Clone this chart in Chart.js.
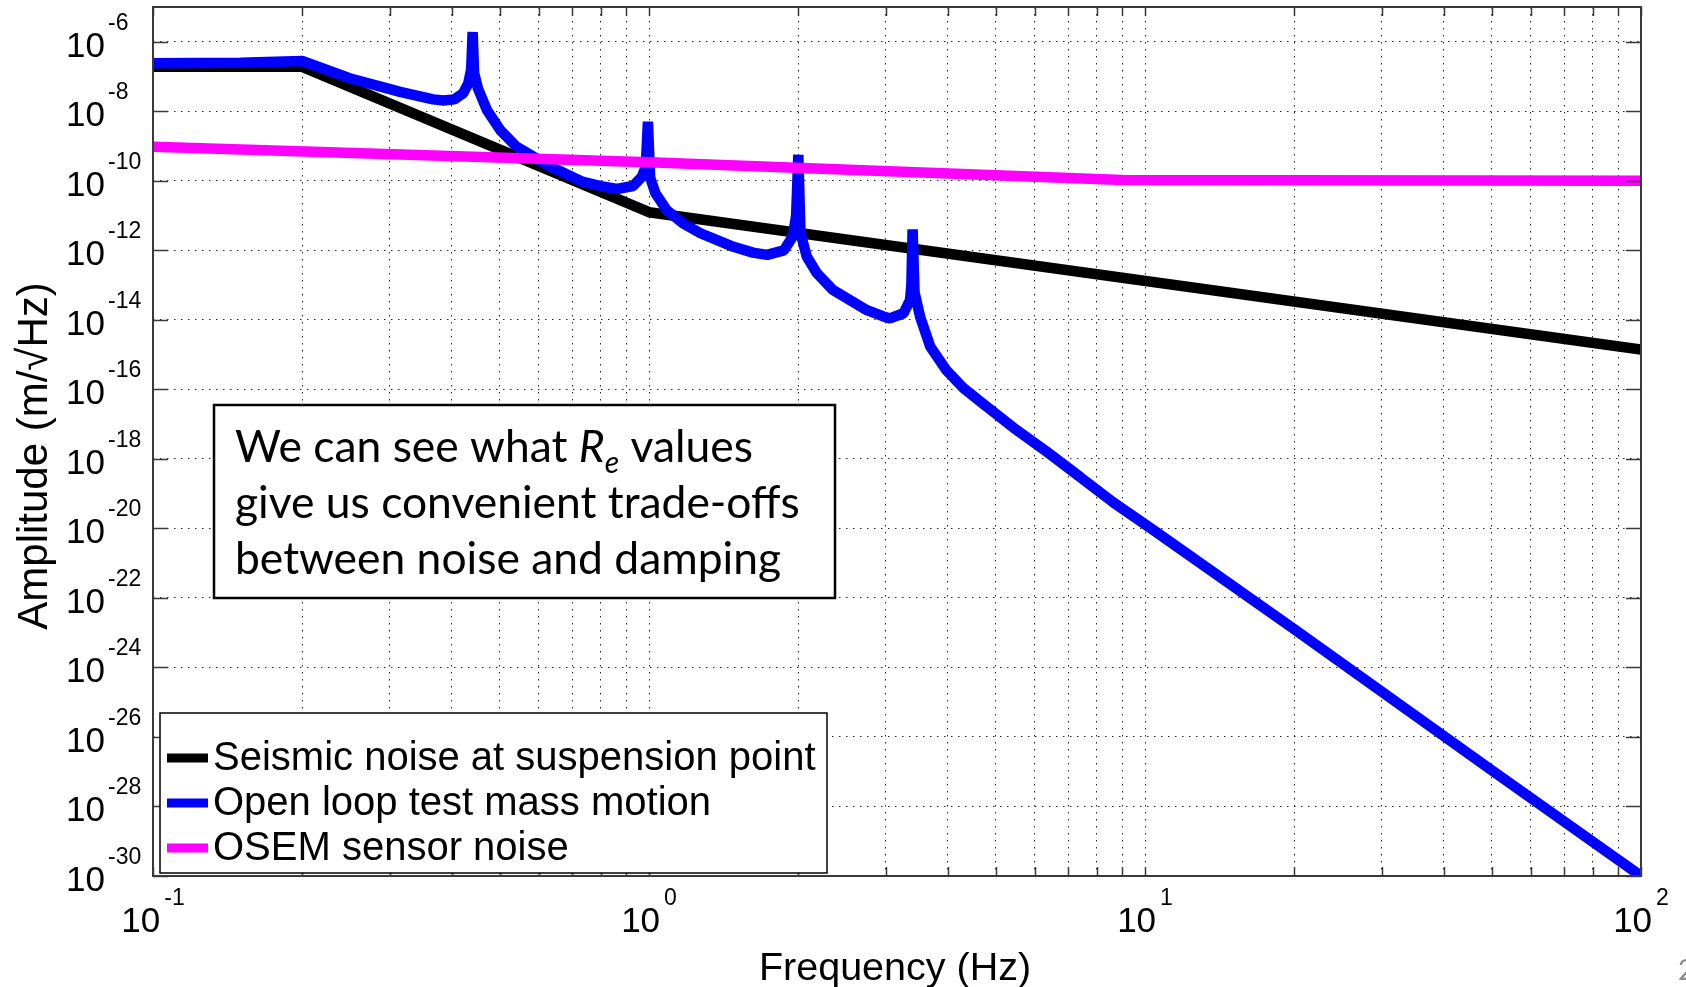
<!DOCTYPE html>
<html>
<head>
<meta charset="utf-8">
<script src="https://cdn.jsdelivr.net/npm/chart.js@4.4.1/dist/chart.umd.min.js"></script>
<style>
  html, body { margin: 0; padding: 0; background: #fff; overflow: hidden; }
  #wrap { width: 1686px; height: 987px; }
</style>
</head>
<body>
<div id="wrap"><canvas id="chart" width="1686" height="987"></canvas></div>
<script>
// --- data (frequency in Hz, amplitude in m/sqrt(Hz)) ---
const SEISMIC_F = [0.1, 0.2, 1, 100];
const SEISMIC_A = [1.9e-7, 1.9e-7, 1.25e-11, 1.4e-15];

const MASS_F = [0.1, 0.15, 0.2, 0.249, 0.315, 0.367, 0.385, 0.405, 0.422, 0.432, 0.438, 0.441, 0.444, 0.452,
  0.471, 0.501, 0.541, 0.631, 0.736, 0.80, 0.861, 0.929, 0.967, 0.985, 0.995, 1.005, 1.03, 1.085, 1.17,
  1.27, 1.48, 1.62, 1.73, 1.87, 1.95, 1.98, 2.0, 2.02, 2.08, 2.18, 2.35, 2.75, 2.95, 3.06, 3.26, 3.36, 3.38,
  3.40, 3.43, 3.52, 3.69, 3.98, 4.3, 4.65, 5.43, 6.34, 7.40, 8.63, 10.4, 20, 50, 100];
const MASS_A = [2.4e-7, 2.5e-7, 2.8e-7, 8.9e-8, 3.6e-8, 2.2e-8, 2.05e-8, 2.2e-8, 3.3e-8, 6.3e-8, 1.6e-7, 1.9e-6, 1.26e-7, 4.5e-8,
  1.1e-8, 2.9e-9, 9.5e-10, 2.6e-10, 9.3e-11, 7.0e-11, 5.8e-11, 7.1e-11, 1.3e-10, 2.5e-10, 5.0e-9, 1.26e-10, 4.4e-11, 1.45e-11, 6.0e-12,
  3.1e-12, 1.26e-12, 8.6e-13, 7.4e-13, 1.0e-12, 2.5e-12, 1.0e-11, 5.6e-10, 3.2e-12, 6.6e-13, 2.2e-13, 7.2e-14, 1.9e-14, 1.3e-14, 1.1e-14, 1.55e-14, 3.7e-14, 1.0e-13,
  4.0e-12, 6.3e-14, 1.23e-14, 1.7e-15, 3.5e-16, 1.1e-16, 4.5e-17, 7.9e-18, 1.6e-18, 3.0e-19, 5.6e-20, 8.9e-21, 1.26e-23, 1.1e-27, 1.0e-30];

const OSEM_F = [0.1, 1, 9, 100];
const OSEM_A = [9.5e-10, 3.4e-10, 1.05e-10, 1.0e-10];

const SERIES_LABELS = ['Seismic noise at suspension point', 'Open loop test mass motion', 'OSEM sensor noise'];
const SERIES_COLORS = ['#000000', '#0000ff', '#ff00ff'];

// --- axes ---
const X_MIN = 0.1, X_MAX = 100;
const Y_MIN = 1e-30, Y_MAX = 1e-5;
const X_GRID = [0.1, 0.2, 0.3, 0.4, 0.5, 0.6, 0.7, 0.8, 0.9, 1, 2, 3, 4, 5, 6, 7, 8, 9, 10,
  20, 30, 40, 50, 60, 70, 80, 90, 100];
const X_LABEL_EXP = [-1, 0, 1, 2];
const Y_LABEL_EXP = [-30, -28, -26, -24, -22, -20, -18, -16, -14, -12, -10, -8, -6];

const X_TITLE = 'Frequency (Hz)';
const Y_TITLE = 'Amplitude (m/\u221AHz)';
const NOTE_LINE1 = ['We can see what ', 'R', 'e', ' values'];
const NOTE_LINES = ['give us convenient trade-offs', 'between noise and damping'];
const PAGE_NO = '2';

const AX_FONT = "'Liberation Sans', Arial, sans-serif";
const NOTE_FONT = "Lato, 'Open Sans', sans-serif";

function toPoints(fs, as) {
  return fs.map((f, i) => ({ x: f, y: as[i] }));
}

const decorPlugin = {
  id: 'decor',
  afterDatasetsDraw(chart) {
    const { ctx, chartArea: a, scales: { x, y } } = chart;
    ctx.save();

    // frame
    ctx.strokeStyle = '#3a3a3a';
    ctx.lineWidth = 2;
    ctx.strokeRect(a.left, a.top, a.right - a.left, a.bottom - a.top);

    // inward tick marks
    ctx.beginPath();
    X_GRID.forEach(v => {
      const px = Math.round(x.getPixelForValue(v)) + 0.5;
      ctx.moveTo(px, a.bottom); ctx.lineTo(px, a.bottom - 9);
      ctx.moveTo(px, a.top); ctx.lineTo(px, a.top + 9);
    });
    Y_LABEL_EXP.forEach(e => {
      const py = Math.round(y.getPixelForValue(Math.pow(10, e))) + 0.5;
      ctx.moveTo(a.left, py); ctx.lineTo(a.left + 15, py);
      ctx.moveTo(a.right, py); ctx.lineTo(a.right - 15, py);
    });
    ctx.lineWidth = 1.5;
    ctx.stroke();

    // tick labels
    ctx.fillStyle = '#000';
    ctx.textBaseline = 'alphabetic';
    Y_LABEL_EXP.forEach(e => {
      const py = y.getPixelForValue(Math.pow(10, e));
      ctx.font = '35px ' + AX_FONT;
      ctx.textAlign = 'right';
      ctx.fillText('10', 105, py + 15);
      ctx.font = '23px ' + AX_FONT;
      ctx.textAlign = 'left';
      ctx.fillText(String(e), 108, py - 12);
    });
    X_LABEL_EXP.forEach(e => {
      const px = x.getPixelForValue(Math.pow(10, e));
      ctx.font = '35px ' + AX_FONT;
      const w10 = ctx.measureText('10').width;
      ctx.font = '23px ' + AX_FONT;
      const wE = ctx.measureText(String(e)).width;
      const start = px - (w10 + 4 + wE) / 2;
      ctx.textAlign = 'left';
      ctx.font = '35px ' + AX_FONT;
      ctx.fillText('10', start, a.bottom + 56);
      ctx.font = '23px ' + AX_FONT;
      ctx.fillText(String(e), start + w10 + 4, a.bottom + 29);
    });

    // axis titles
    ctx.font = '39.5px ' + AX_FONT;
    ctx.textAlign = 'center';
    ctx.fillText(X_TITLE, (a.left + a.right) / 2 - 2, 980);
    ctx.save();
    ctx.font = '42px ' + AX_FONT;
    ctx.translate(47, 456);
    ctx.rotate(-Math.PI / 2);
    ctx.fillText(Y_TITLE, 0, 0);
    ctx.restore();

    // legend
    const lg = { left: 160, top: 713, right: 827, bottom: 873 };
    ctx.fillStyle = '#fff';
    ctx.fillRect(lg.left, lg.top, lg.right - lg.left, lg.bottom - lg.top);
    ctx.strokeStyle = '#000';
    ctx.lineWidth = 1.5;
    ctx.strokeRect(lg.left, lg.top, lg.right - lg.left, lg.bottom - lg.top);
    chart.data.datasets.forEach((ds, i) => {
      const rowY = 758 + i * 45;
      ctx.strokeStyle = ds.borderColor;
      ctx.lineWidth = 9;
      ctx.lineCap = 'butt';
      ctx.beginPath();
      ctx.moveTo(167, rowY); ctx.lineTo(208, rowY);
      ctx.stroke();
      ctx.fillStyle = '#000';
      ctx.font = '40px ' + AX_FONT;
      ctx.textAlign = 'left';
      ctx.textBaseline = 'middle';
      ctx.fillText(ds.label, 213, rowY + 1);
    });

    // note box
    const nb = { left: 214, top: 405, right: 835, bottom: 598 };
    ctx.fillStyle = '#fff';
    ctx.fillRect(nb.left, nb.top, nb.right - nb.left, nb.bottom - nb.top);
    ctx.strokeStyle = '#000';
    ctx.lineWidth = 2.5;
    ctx.strokeRect(nb.left, nb.top, nb.right - nb.left, nb.bottom - nb.top);
    ctx.textBaseline = 'alphabetic';
    ctx.textAlign = 'left';
    ctx.font = '40px ' + NOTE_FONT;
    const fs = 40 * 565 / ctx.measureText(NOTE_LINES[0]).width;
    ctx.fillStyle = '#000';
    let cx = 235;
    ctx.font = fs + 'px ' + NOTE_FONT;
    ctx.fillText(NOTE_LINE1[0], cx, 462);
    cx += ctx.measureText(NOTE_LINE1[0]).width;
    ctx.font = 'italic ' + fs + 'px ' + NOTE_FONT;
    ctx.fillText(NOTE_LINE1[1], cx, 462);
    cx += ctx.measureText(NOTE_LINE1[1]).width;
    ctx.font = 'italic ' + (fs * 0.68) + 'px ' + NOTE_FONT;
    ctx.fillText(NOTE_LINE1[2], cx, 462 + 11);
    cx += ctx.measureText(NOTE_LINE1[2]).width;
    ctx.font = fs + 'px ' + NOTE_FONT;
    ctx.fillText(NOTE_LINE1[3], cx, 462);
    NOTE_LINES.forEach((t, i) => ctx.fillText(t, 235, 518 + i * 56));

    // page number
    ctx.fillStyle = '#8a8a8a';
    ctx.font = '28px ' + NOTE_FONT;
    ctx.fillText(PAGE_NO, 1678, 980);

    ctx.restore();
  }
};

const gridOpts = { color: 'rgba(0,0,0,0.85)', lineWidth: 1, drawTicks: false };
const borderOpts = { display: false, dash: [1.5, 5.5] };

new Chart(document.getElementById('chart').getContext('2d'), {
  type: 'line',
  data: {
    datasets: [
      { label: SERIES_LABELS[0], data: toPoints(SEISMIC_F, SEISMIC_A), borderColor: SERIES_COLORS[0], order: 2 },
      { label: SERIES_LABELS[1], data: toPoints(MASS_F, MASS_A), borderColor: SERIES_COLORS[1], order: 1 },
      { label: SERIES_LABELS[2], data: toPoints(OSEM_F, OSEM_A), borderColor: SERIES_COLORS[2], order: 0 },
    ],
  },
  options: {
    responsive: false,
    animation: false,
    devicePixelRatio: 1,
    layout: { padding: { left: 153, top: 7, right: 45, bottom: 111 } },
    plugins: { legend: { display: false }, tooltip: { enabled: false } },
    elements: {
      point: { radius: 0 },
      line: { borderWidth: 10.5, borderJoinStyle: 'bevel', borderCapStyle: 'butt', tension: 0, fill: false },
    },
    datasets: { line: { clip: 0 } },
    scales: {
      x: {
        type: 'logarithmic', min: X_MIN, max: X_MAX,
        afterBuildTicks: s => { s.ticks = X_GRID.map(v => ({ value: v })); },
        ticks: { display: false },
        grid: gridOpts, border: borderOpts,
      },
      y: {
        type: 'logarithmic', min: Y_MIN, max: Y_MAX,
        afterBuildTicks: s => { s.ticks = Y_LABEL_EXP.map(e => ({ value: Math.pow(10, e) })); },
        ticks: { display: false },
        grid: gridOpts, border: borderOpts,
      },
    },
  },
  plugins: [decorPlugin],
});
</script>
</body>
</html>
